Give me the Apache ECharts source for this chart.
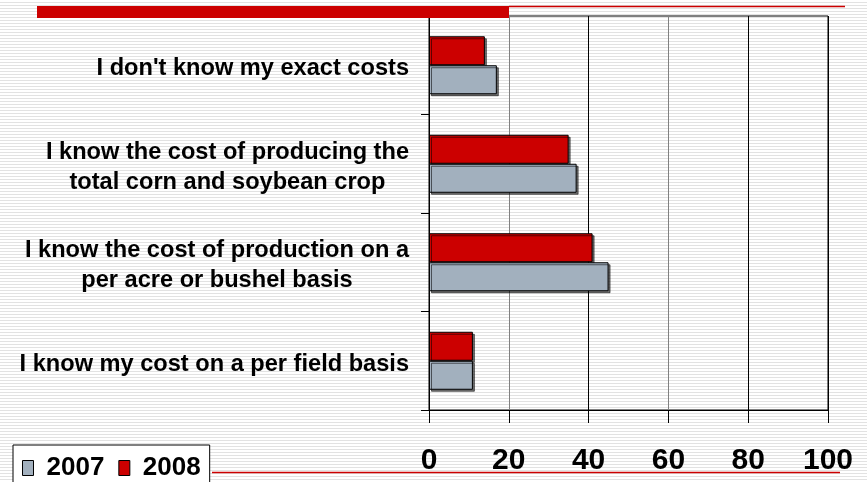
<!DOCTYPE html>
<html>
<head>
<meta charset="utf-8">
<script src="https://cdn.jsdelivr.net/npm/echarts@6/dist/echarts.min.js"></script>
<style>
html,body{margin:0;padding:0;}
body{width:867px;height:482px;overflow:hidden;
background:repeating-linear-gradient(to bottom,#ffffff 0px,#ffffff 2px,#e2e2e2 2px,#e2e2e2 3px);}
#chart{width:867px;height:482px;}
</style>
</head>
<body>
<div id="chart"></div>
<script>
const categories = [
  "I don't know my exact costs",
  "I know the cost of producing the\ntotal corn and soybean crop",
  "I know the cost of production on a\nper acre or bushel basis",
  "I know my cost on a per field basis"
];
const seriesNames = ["2007", "2008"];
const values2007 = [17, 37, 45, 11];
const values2008 = [14, 35, 41, 11];
const xTicks = [0, 20, 40, 60, 80, 100];

const chart = echarts.init(document.getElementById('chart'), null, {renderer: 'canvas'});
const barStyle = (color) => ({
  color: color,
  borderColor: '#000',
  borderWidth: 1,
  shadowColor: 'rgba(0,0,0,0.55)',
  shadowOffsetX: 2,
  shadowOffsetY: 2,
  shadowBlur: 0
});
chart.setOption({
  animation: false,
  backgroundColor: 'transparent',
  textStyle: {fontFamily: 'Liberation Sans, Arial, sans-serif'},
  grid: {left: 429, right: 39, top: 16, bottom: 72, show: true, borderColor: '#000', borderWidth: 1, backgroundColor: 'transparent'},
  legend: {
    data: seriesNames,
    left: 13, top: 445,
    orient: 'horizontal',
    backgroundColor: '#fff',
    borderColor: '#000',
    borderWidth: 1,
    padding: [10, 9, 14, 9],
    itemGap: 14,
    itemWidth: 11,
    itemHeight: 15,
    icon: 'rect',
    itemStyle: {borderColor: '#000', borderWidth: 1},
    textStyle: {fontSize: 26, fontWeight: 'bold', color: '#000', padding: [3, 0, 0, 8]}
  },
  xAxis: {
    type: 'value', min: xTicks[0], max: xTicks[xTicks.length - 1], interval: 20,
    axisLine: {show: true, lineStyle: {color: '#000', width: 1}},
    axisTick: {show: true, length: 13, lineStyle: {color: '#000'}},
    axisLabel: {show: true, margin: 36, fontSize: 30, fontWeight: 'bold', color: '#000',
      formatter: (v) => xTicks.includes(v) ? String(v) : ''},
    splitLine: {show: true, lineStyle: {color: ['#000', '#808080', '#000', '#808080', '#000', '#000'], width: 1}}
  },
  yAxis: {
    type: 'category', data: categories, inverse: true,
    axisLine: {show: true, lineStyle: {color: '#000', width: 1}},
    axisTick: {show: true, length: 8, lineStyle: {color: '#000'}},
    axisLabel: {margin: 20, color: '#000', align: 'right',
      padding: [7, 0, 0, 0],
      formatter: (v) => v.split('\n').map(s => '{c|' + s + '}').join('\n'),
      rich: {c: {align: 'center', fontSize: 23.6, fontWeight: 'bold', color: '#000', lineHeight: 30,
        fontFamily: 'Liberation Sans, Arial, sans-serif'}}
    },
    splitLine: {show: false}
  },
  series: [
    {name: seriesNames[1], type: 'bar', data: values2008, barWidth: 29, barGap: '0%', itemStyle: barStyle('#CC0000')},
    {name: seriesNames[0], type: 'bar', data: values2007, barWidth: 29, barGap: '0%', itemStyle: barStyle('#A2B0BE')}
  ],
  graphic: [
    {type: 'rect', shape: {x: 37, y: 6, width: 472, height: 12}, style: {fill: '#CC0000'}, z: 10},
    {type: 'line', shape: {x1: 509, y1: 6.5, x2: 845, y2: 6.5}, style: {stroke: '#CC0000', lineWidth: 1.5}, z: 10},
    {type: 'line', shape: {x1: 212, y1: 472.5, x2: 840, y2: 472.5}, style: {stroke: '#CC0000', lineWidth: 1.5}, z: 10}
  ]
});
</script>
</body>
</html>
